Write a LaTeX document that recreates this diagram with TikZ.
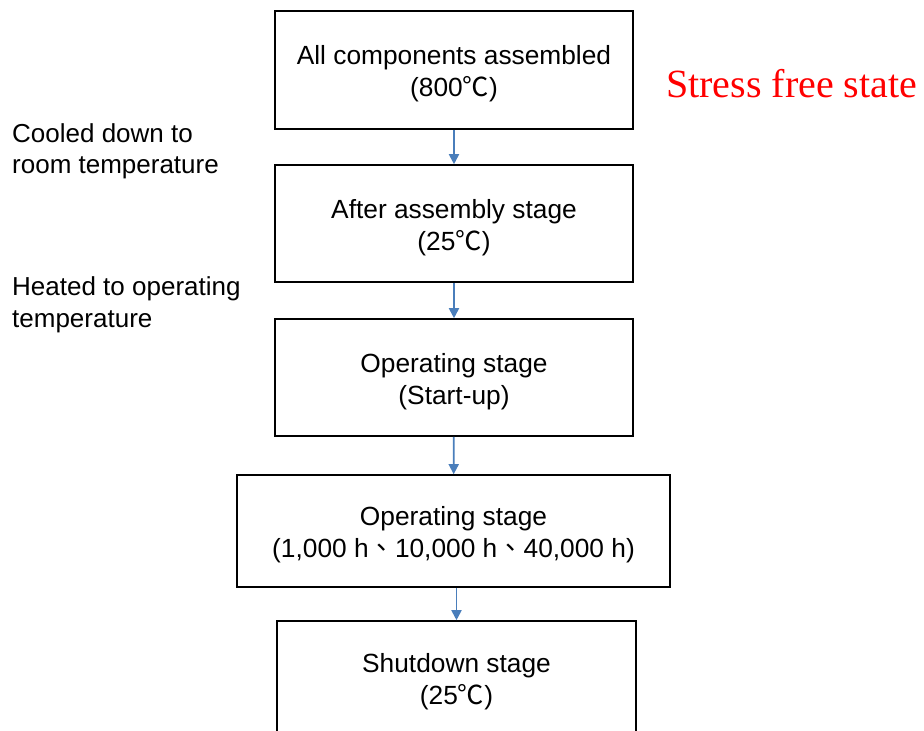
\documentclass[tikz,border=0pt]{standalone}
\usepackage{fontspec}
\setmainfont{Liberation Sans}
\newfontfamily\cjk{Noto Sans CJK TC}
\newfontfamily\redserif{Liberation Serif}
\usetikzlibrary{arrows.meta}
\definecolor{arrowblue}{HTML}{4A7EBB}
\begin{document}
\begin{tikzpicture}[x=1pt,y=-1pt,
  stage/.style={draw=black, line width=1.6pt, inner sep=0pt},
  stagetext/.style={align=center, inner sep=0pt,
    font=\fontsize{26.3}{32}\selectfont},
  note/.style={anchor=west, align=left, inner sep=0pt,
    font=\fontsize{26}{31.5}\selectfont},
  arr/.style={draw=arrowblue, line width=1.8pt, -{Triangle[width=10pt,length=10pt]}}]
\useasboundingbox (0,0) rectangle (924,731);
\clip (0,0) rectangle (924,731);
\node[stage, minimum width=358pt, minimum height=118pt] (a) at (454,70) {};
\node[stage, minimum width=358pt, minimum height=117pt] (b) at (454,223.5) {};
\node[stage, minimum width=358pt, minimum height=117pt] (c) at (454,377.5) {};
\node[stage, minimum width=433pt, minimum height=112pt] (d) at (453.5,531) {};
\node[stage, minimum width=359pt, minimum height=114pt] (e) at (456.5,678) {};
\node[stagetext] (ta) at ([yshift=-4pt]a.center) {All components assembled\\(800{\cjk ℃})};
\node[stagetext] (tb) at ([yshift=-4pt]b.center) {After assembly stage\\(25{\cjk ℃})};
\node[stagetext] (tc) at ([yshift=-4pt]c.center) {Operating stage\\(Start-up)};
\node[stagetext] (td) at ([yshift=-4pt]d.center) {Operating stage\\(1,000 h{\cjk 、}10,000 h{\cjk 、}40,000 h)};
\node[stagetext] (te) at ([yshift=-4pt]e.center) {Shutdown stage\\(25{\cjk ℃})};
\node[anchor=west, inner sep=0pt, text=red, font=\redserif\fontsize{40}{45}\selectfont] (sf) at (666,84) {Stress free state};
\node[note] (n1) at (12,151.5) {Cooled down to\\room temperature};
\node[note] (n2) at (12,305) {Heated to operating\\temperature};
\draw[arr] (a) -- (b);
\draw[arr] (b) -- (c);
\draw[arr] (c) -- (d);
\draw[arr] (d.south -| e.north) -- (e.north);
\end{tikzpicture}
\end{document}
